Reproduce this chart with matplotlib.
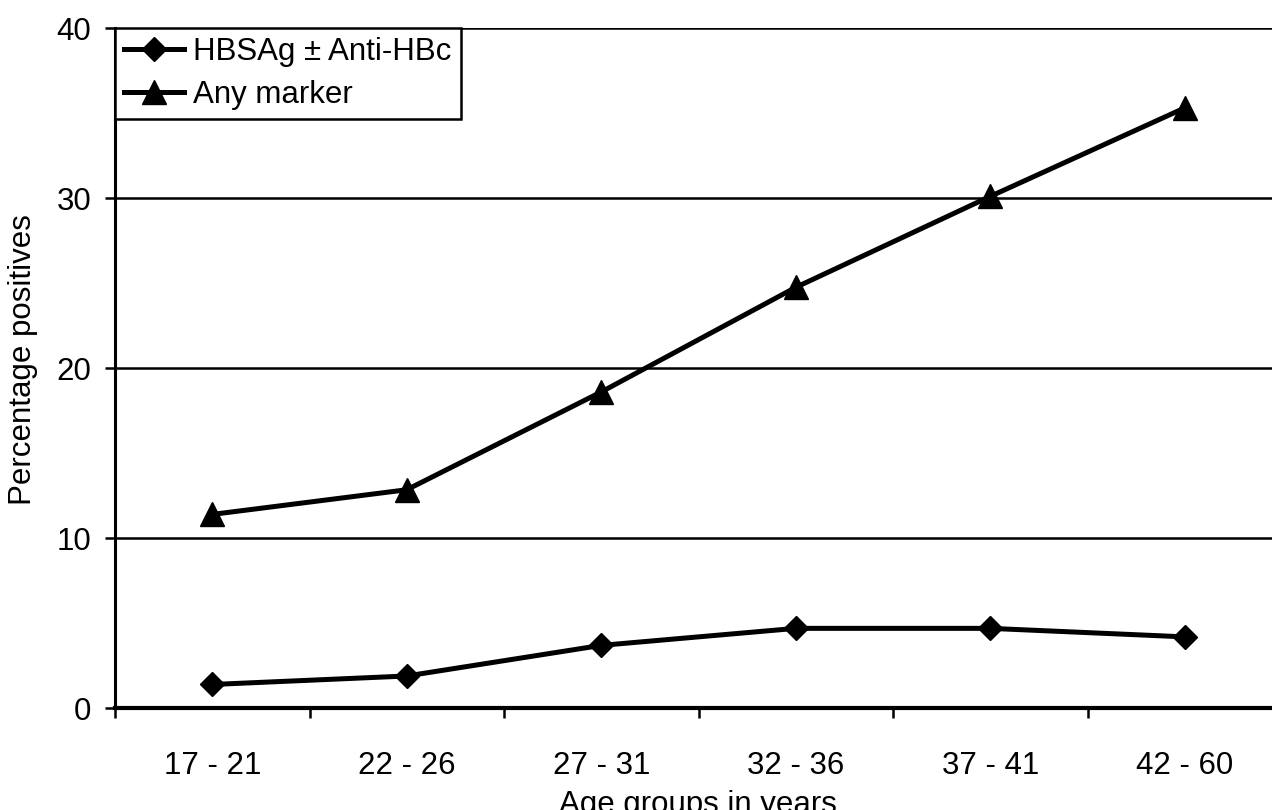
import matplotlib
matplotlib.use("Agg")
import matplotlib.pyplot as plt
import numpy as np

plt.rcParams['font.family'] = ['Liberation Sans', 'DejaVu Sans']

# data
age_groups = ['17 - 21', '22 - 26', '27 - 31', '32 - 36', '37 - 41', '42 - 60']
hbsag = [1.4, 1.9, 3.7, 4.7, 4.7, 4.2]
any_marker = [11.4, 12.85, 18.6, 24.75, 30.1, 35.3]

fs = 22.5

fig = plt.figure(figsize=(12.72, 8.10), dpi=100)
# plot area runs a little past the right edge of the picture
ax = fig.add_axes([115 / 1272, 101.7 / 810, 1167 / 1272, 680.3 / 810])

x = np.arange(len(age_groups))
ax.plot(x, hbsag, color='black', lw=3.6, marker='D', markersize=12,
        label='HBSAg \u00b1 Anti-HBc')
ax.plot(x, any_marker, color='black', lw=3.6, marker='^', markersize=17,
        label='Any marker')

ax.set_xlim(-0.5, len(age_groups) - 0.5)
ax.set_ylim(0, 40)

# gridlines in black, drawn under the lines
ax.set_yticks([0, 10, 20, 30, 40])
ax.yaxis.grid(True, color='black', lw=1.8)
ax.set_axisbelow(True)

# category borders get tick marks, labels sit between them
ax.set_xticks(np.arange(-0.5, len(age_groups)), labels=[])
ax.set_xticks(x, labels=age_groups, minor=True)
ax.tick_params(axis='x', which='major', direction='out', length=7, width=1.8)
ax.tick_params(axis='x', which='minor', length=0, pad=31, labelsize=fs)
ax.tick_params(axis='y', direction='out', length=7, width=1.8, labelsize=fs, pad=10)

for side in ['top', 'right']:
    ax.spines[side].set_visible(False)
ax.spines['left'].set_linewidth(2.2)
ax.spines['bottom'].set_linewidth(3)

ax.set_ylabel('Percentage positives', fontsize=fs)
ax.yaxis.set_label_coords(-0.066, 0.512)
fig.text(698 / 1272, 1 - 790 / 810, 'Age groups in years', fontsize=fs,
         ha='center', va='top')

leg = ax.legend(loc='upper left', bbox_to_anchor=(0, 1), fontsize=fs,
                frameon=True, fancybox=False, borderpad=0.3,
                handlelength=1.9, handletextpad=0.3, labelspacing=0.4,
                borderaxespad=0)
leg.get_frame().set_edgecolor('black')
leg.get_frame().set_linewidth(1.8)
leg.get_frame().set_alpha(1)

fig.savefig('out.png', dpi=100)
